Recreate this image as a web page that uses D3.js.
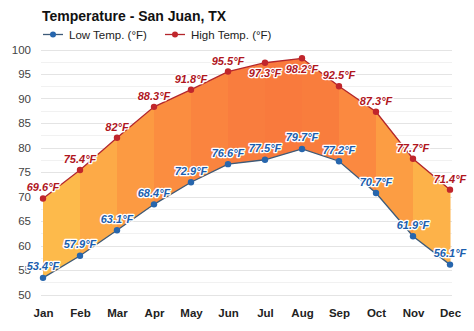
<!DOCTYPE html>
<html>
<head>
<meta charset="utf-8">
<script src="https://cdn.jsdelivr.net/npm/d3@7"></script>
<style>
  html, body { margin: 0; padding: 0; background: #fff; }
  svg { display: block; font-family: "Liberation Sans", Arial, sans-serif; }
</style>
</head>
<body>
<svg id="chart" width="474" height="331"></svg>
<script>
const months = ["Jan","Feb","Mar","Apr","May","Jun","Jul","Aug","Sep","Oct","Nov","Dec"];
const lowTemps = [53.4, 57.9, 63.1, 68.4, 72.9, 76.6, 77.5, 79.7, 77.2, 70.7, 61.9, 56.1];
const highTemps = [69.6, 75.4, 82, 88.3, 91.8, 95.5, 97.3, 98.2, 92.5, 87.3, 77.7, 71.4];
const yTicks = [50, 55, 60, 65, 70, 75, 80, 85, 90, 95, 100];
const title = "Temperature - San Juan, TX";
const seriesNames = ["Low Temp. (°F)", "High Temp. (°F)"];
// high labels drawn below their point (top of the chart)
const highLabelBelow = ["Jul", "Aug"];

const svg = d3.select("#chart");
const x = d3.scalePoint().domain(months).range([43, 450]);
const y = d3.scaleLinear().domain([50, 100]).range([294.5, 49.5]);

// grid lines (major every 5, minor every 2.5)
const gridG = svg.append("g");
const minor = d3.range(50, 100.01, 2.5);
gridG.selectAll("line").data(minor).join("line")
  .attr("x1", 41).attr("x2", 452)
  .attr("y1", d => Math.round(y(d)) + 0.5).attr("y2", d => Math.round(y(d)) + 0.5)
  .attr("stroke", d => (d % 5 === 0) ? "#e4e4e4" : "#f1f1f1")
  .attr("stroke-width", 1);

// y axis labels
const yAxis = d3.axisLeft(y).tickValues(yTicks).tickSize(0).tickPadding(0);
const yg = svg.append("g").attr("transform", "translate(31,0)").call(yAxis);
yg.select(".domain").remove();
yg.selectAll("text").attr("font-size", "11.5px").attr("fill", "#444")
  .attr("font-family", "Liberation Sans, Arial, sans-serif");

// x axis labels
const xAxis = d3.axisBottom(x).tickSize(0).tickPadding(0);
const xg = svg.append("g").attr("transform", "translate(0,309)").call(xAxis);
xg.select(".domain").remove();
xg.selectAll("text").attr("font-size", "11.5px").attr("font-weight", "bold").attr("fill", "#222")
  .attr("font-family", "Liberation Sans, Arial, sans-serif");

// band fills between months coloured by average temperature
const data = months.map((m, i) => ({ m, lo: lowTemps[i], hi: highTemps[i] }));
const segs = d3.pairs(data);
const avg = s => (s[0].lo + s[0].hi + s[1].lo + s[1].hi) / 4;
const color = d3.scaleLinear().domain([64, 76, 88]).range(["#fdba4b", "#fc9842", "#f97a3d"]).clamp(true);
svg.append("g").selectAll("path").data(segs).join("path")
  .attr("d", s => {
    const p = d3.path();
    p.moveTo(x(s[0].m), y(s[0].hi));
    p.lineTo(x(s[1].m) + 0.5, y(s[1].hi));
    p.lineTo(x(s[1].m) + 0.5, y(s[1].lo));
    p.lineTo(x(s[0].m), y(s[0].lo));
    p.closePath();
    return p.toString();
  })
  .attr("fill", s => color(avg(s)));

// lines
const lineHi = d3.line().x(d => x(d.m)).y(d => y(d.hi));
const lineLo = d3.line().x(d => x(d.m)).y(d => y(d.lo));
svg.append("path").attr("d", lineHi(data)).attr("fill", "none").attr("stroke", "#b3262b").attr("stroke-width", 1.3);
svg.append("path").attr("d", lineLo(data)).attr("fill", "none").attr("stroke", "#3d5a78").attr("stroke-width", 1.3);

// markers
svg.append("g").selectAll("circle").data(data).join("circle")
  .attr("cx", d => x(d.m)).attr("cy", d => y(d.hi)).attr("r", 3.2).attr("fill", "#c0262c");
svg.append("g").selectAll("circle").data(data).join("circle")
  .attr("cx", d => x(d.m)).attr("cy", d => y(d.lo)).attr("r", 3.2).attr("fill", "#2766ad");

// data labels
function fmt(v) { return v + "°F"; }
const labelStyle = sel => sel
  .attr("text-anchor", "middle")
  .attr("font-size", "11px").attr("font-weight", "bold").attr("font-style", "italic")
  .attr("stroke", "#fff").attr("stroke-width", 2.6).attr("stroke-linejoin", "round")
  .attr("paint-order", "stroke");
svg.append("g").selectAll("text").data(data).join("text")
  .attr("x", d => x(d.m))
  .attr("y", d => highLabelBelow.includes(d.m) ? y(d.hi) + 14.5 : y(d.hi) - 7)
  .attr("fill", "#b0161e")
  .text(d => fmt(d.hi))
  .call(labelStyle);
svg.append("g").selectAll("text").data(data).join("text")
  .attr("x", d => x(d.m))
  .attr("y", d => y(d.lo) - 7.5)
  .attr("fill", "#1b5eae")
  .text(d => fmt(d.lo))
  .call(labelStyle);

// title
svg.append("text").attr("x", 42).attr("y", 20.5).attr("font-size", "14px").attr("font-weight", "bold")
  .attr("fill", "#111").text(title);

// legend
const legend = [
  { name: seriesNames[0], line: "#3d5a78", dot: "#2766ad", x0: 43 },
  { name: seriesNames[1], line: "#b3262b", dot: "#c0262c", x0: 165 }
];
const lg = svg.append("g").selectAll("g").data(legend).join("g")
  .attr("transform", d => `translate(${d.x0},34.5)`);
lg.append("line").attr("x1", 0).attr("x2", 20).attr("y1", 0).attr("y2", 0)
  .attr("stroke", d => d.line).attr("stroke-width", 1.3);
lg.append("circle").attr("cx", 10).attr("cy", 0).attr("r", 3).attr("fill", d => d.dot);
lg.append("text").attr("x", 26).attr("y", 4).attr("font-size", "11.5px").attr("fill", "#222")
  .text(d => d.name);
</script>
</body>
</html>
